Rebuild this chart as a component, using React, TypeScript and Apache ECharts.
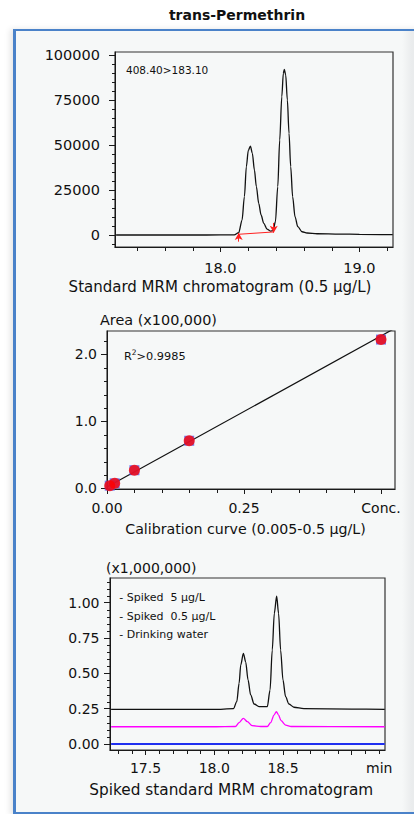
import React, { useEffect, useRef } from "react";
import * as echarts from "echarts";

const FONT = "DejaVu Sans";

// ---------- Chart 1: standard MRM chromatogram ----------
const c1Time = [17.25, 17.6, 17.9, 18.1, 18.132, 18.156, 18.173, 18.187, 18.201, 18.216, 18.23, 18.245, 18.259, 18.276, 18.293, 18.312, 18.336, 18.36, 18.379, 18.396, 18.413, 18.427, 18.442, 18.453, 18.46, 18.47, 18.482, 18.494, 18.506, 18.52, 18.537, 18.557, 18.588, 18.624, 18.696, 18.86, 19.0, 19.24];
const c1Intensity = [0, 0, 0, 100, 1300, 8300, 21300, 38000, 47000, 49400, 45400, 36100, 26900, 17600, 11100, 6500, 3300, 2200, 2400, 7400, 26900, 52800, 76800, 89800, 92000, 88900, 75000, 56500, 38000, 21300, 10200, 4600, 1800, 1100, 700, 500, 400, 200];
const c1BaselineTime = [18.132, 18.384];
const c1BaselineValue = [400, 1700];
const c1ArrowTime = [18.132, 18.384];
const c1ArrowFrom = [-3700, 6700];
const c1ArrowTo = [1100, 1300];
const c1XMajor = [18.0, 19.0];
const c1XLabels = ["18.0", "19.0"];
const c1XMinor = [17.4, 17.6, 17.8, 18.2, 18.4, 18.6, 18.8, 19.2];
const c1YMajor = [0, 25000, 50000, 75000, 100000];
const c1YLabels = ["0", "25000", "50000", "75000", "100000"];
const c1YMinor = [-5000, 5000, 10000, 15000, 20000, 30000, 35000, 40000, 45000, 55000, 60000, 65000, 70000, 80000, 85000, 90000, 95000];

// ---------- Chart 2: calibration curve ----------
const c2Conc = [0.005, 0.014, 0.05, 0.15, 0.5];
const c2Area = [0.04, 0.075, 0.27, 0.71, 2.22];
const c2FitConc = [0, 0.53];
const c2FitArea = [0.02, 2.41];
const c2XMajor = [0, 0.25, 0.5];
const c2XLabels = ["0.00", "0.25", "Conc."];
const c2XMinor = [0.05, 0.1, 0.15, 0.2, 0.3, 0.35, 0.4, 0.45];
const c2YMajor = [0, 1, 2];
const c2YLabels = ["0.0", "1.0", "2.0"];
const c2YMinor = [0.2, 0.4, 0.6, 0.8, 1.2, 1.4, 1.6, 1.8, 2.2];

// ---------- Chart 3: spiked standard MRM chromatogram ----------
const c3BlackTime = [17.25, 17.6, 18.0, 18.14, 18.164, 18.181, 18.193, 18.212, 18.229, 18.246, 18.265, 18.29, 18.326, 18.386, 18.406, 18.422, 18.437, 18.454, 18.468, 18.483, 18.5, 18.519, 18.543, 18.58, 18.652, 19.0, 19.24];
const c3BlackValue = [0.245, 0.245, 0.245, 0.25, 0.3, 0.43, 0.56, 0.642, 0.58, 0.453, 0.347, 0.283, 0.264, 0.264, 0.382, 0.665, 0.925, 1.047, 0.925, 0.665, 0.453, 0.335, 0.283, 0.26, 0.25, 0.247, 0.245];
const c3MagentaTime = [17.25, 18.0, 18.154, 18.181, 18.212, 18.241, 18.275, 18.338, 18.386, 18.41, 18.435, 18.452, 18.468, 18.486, 18.519, 18.56, 19.24];
const c3MagentaValue = [0.122, 0.122, 0.124, 0.151, 0.182, 0.158, 0.13, 0.124, 0.124, 0.151, 0.205, 0.229, 0.205, 0.165, 0.134, 0.124, 0.122];
const c3BlueTime = [17.25, 19.24];
const c3BlueValue = [0, 0];
const c3XMajor = [17.5, 18.0, 18.5, 19.0];
const c3XLabelValues = [17.5, 18.0, 18.5, 19.2];
const c3XLabels = ["17.5", "18.0", "18.5", "min"];
const c3XMinor = [17.3, 17.4, 17.6, 17.7, 17.8, 17.9, 18.1, 18.2, 18.3, 18.4, 18.6, 18.7, 18.8, 18.9, 19.1, 19.2];
const c3YMajor = [0, 0.25, 0.5, 0.75, 1.0];
const c3YLabels = ["0.00", "0.25", "0.50", "0.75", "1.00"];
const c3YMinor = [0.05, 0.1, 0.15, 0.2, 0.3, 0.35, 0.4, 0.45, 0.55, 0.6, 0.65, 0.7, 0.8, 0.85, 0.9, 0.95, 1.05, 1.1, 1.15];
const c3Legend = ["- Spiked  5 µg/L", "- Spiked  0.5 µg/L", "- Drinking water"];

const zip = (a: number[], b: number[]) => a.map((v, i) => [v, b[i]]);
const pick = (vals: number[], labels: string[]) => (v: number) => {
  const i = vals.findIndex((x) => Math.abs(x - v) < 1e-6);
  return i >= 0 ? labels[i] : "";
};

const AX = "#1a1a1a";

function axis(dim: "x" | "y", grid: number, min: number, max: number, ticks: number[], labelVals: number[],
  fmt: (v: number) => string, tickLen: number, margin: number, fs: number) {
  return {
    gridIndex: grid, type: "value", min, max, position: dim === "x" ? "bottom" : "left",
    axisLine: { show: true, onZero: false, lineStyle: { color: AX, width: 1 } },
    axisTick: { show: true, customValues: ticks, length: tickLen, lineStyle: { color: AX, width: 1 } },
    axisLabel: { show: true, customValues: labelVals, formatter: fmt, margin, fontSize: fs, fontFamily: FONT, color: "#111" },
    splitLine: { show: false },
  };
}

function txt(x: number, y: number, text: string, fontSize: number, align = "left", weight = "normal") {
  return {
    type: "text", x, y, z: 10,
    style: {
      text, fontSize, fontFamily: FONT, fontWeight: weight, fill: "#111",
      align, verticalAlign: "middle", textAlign: align, textVerticalAlign: "middle",
    },
  };
}

export default function App() {
  const ref = useRef<HTMLDivElement>(null);
  useEffect(() => {
    const chart = echarts.init(ref.current!, null, { renderer: "svg" });
    const X1 = [17.242, 19.242], Y1 = [-6667, 101667];
    const X2 = [0, 0.5255], Y2 = [-0.01, 2.348];
    const X3 = [17.242, 19.242], Y3 = [-0.0425, 1.175];
    const gridStyle = { show: true, borderColor: "#333", borderWidth: 1.2, backgroundColor: "transparent" };
    const texts: any[] = [
      txt(237, 15, "trans-Permethrin", 14, "center", "bold"),
      txt(126, 70, "408.40>183.10", 10.5),
      txt(220, 287, "Standard MRM chromatogram (0.5 µg/L)", 15, "center"),
      txt(100, 320, "Area (x100,000)", 14.4),
      {
        type: "text", x: 124, y: 355, z: 10,
        style: {
          text: "{r|R}{s|2}{r|>0.9985}", align: "left", verticalAlign: "middle",
          textAlign: "left", textVerticalAlign: "middle",
          rich: {
            r: { fontSize: 11.3, fontFamily: FONT, fill: "#111", color: "#111", lineHeight: 14, verticalAlign: "bottom" },
            s: { fontSize: 7.5, fontFamily: FONT, fill: "#111", color: "#111", lineHeight: 14, verticalAlign: "top" },
          },
        },
      },
      txt(245.5, 529, "Calibration curve (0.005-0.5 µg/L)", 14.2, "center"),
      txt(106, 568, "(x1,000,000)", 14),
      txt(119.3, 597.7, c3Legend[0], 11),
      txt(119.3, 616, c3Legend[1], 11),
      txt(119.3, 634.3, c3Legend[2], 11),
      txt(231.3, 790, "Spiked standard MRM chromatogram", 15.3, "center"),
    ];
    const option: any = {
      animation: false,
      backgroundColor: "transparent",
      grid: [
        { left: 115, top: 52, width: 278, height: 195, ...gridStyle },
        { left: 107, top: 331, width: 288, height: 158, ...gridStyle },
        { left: 110, top: 578, width: 275, height: 172, ...gridStyle },
      ],
      xAxis: [
        axis("x", 0, X1[0], X1[1], c1XMajor, c1XMajor, pick(c1XMajor, c1XLabels), 5, 13, 14.5),
        axis("x", 1, X2[0], X2[1], c2XMajor, c2XMajor, pick(c2XMajor, c2XLabels), 5, 12, 14),
        axis("x", 2, X3[0], X3[1], c3XMajor, c3XLabelValues, pick(c3XLabelValues, c3XLabels), 5, 11, 14),
      ],
      yAxis: [
        axis("y", 0, Y1[0], Y1[1], c1YMajor, c1YMajor, pick(c1YMajor, c1YLabels), 6, 15, 14.5),
        axis("y", 1, Y2[0], Y2[1], c2YMajor, c2YMajor, pick(c2YMajor, c2YLabels), 6, 10, 14),
        axis("y", 2, Y3[0], Y3[1], c3YMajor, c3YMajor, pick(c3YMajor, c3YLabels), 6, 10.5, 14),
      ],
      series: [
        {
          type: "line", xAxisIndex: 0, yAxisIndex: 0, data: zip(c1Time, c1Intensity),
          showSymbol: false, smooth: 0.3, smoothMonotone: "x", lineStyle: { color: "#111", width: 1.3 }, z: 3,
        },
        {
          type: "line", xAxisIndex: 0, yAxisIndex: 0, data: zip(c1BaselineTime, c1BaselineValue),
          showSymbol: false, lineStyle: { color: "#ff2020", width: 1 }, z: 4,
          markLine: {
            silent: true, symbol: ["none", "arrow"], symbolSize: [6, 7],
            lineStyle: { color: "#ff2020", width: 1, type: "solid" }, label: { show: false },
            data: c1ArrowTime.map((t, i) => [{ coord: [t, c1ArrowFrom[i]] }, { coord: [t, c1ArrowTo[i]] }]),
          },
        },
        {
          type: "line", xAxisIndex: 1, yAxisIndex: 1, data: zip(c2FitConc, c2FitArea),
          showSymbol: false, lineStyle: { color: "#111", width: 1.2 }, z: 3,
        },
        {
          type: "scatter", xAxisIndex: 1, yAxisIndex: 1, data: zip(c2Conc, c2Area),
          symbol: "rect", symbolSize: 10, itemStyle: { color: "#4a5cf0" }, z: 4,
        },
        {
          type: "scatter", xAxisIndex: 1, yAxisIndex: 1, data: zip(c2Conc, c2Area),
          symbol: "circle", symbolSize: 11, itemStyle: { color: "#ff0000" }, z: 5,
        },
        {
          type: "line", xAxisIndex: 2, yAxisIndex: 2, data: zip(c3BlueTime, c3BlueValue),
          showSymbol: false, lineStyle: { color: "#1f2ff0", width: 2 }, z: 3,
        },
        {
          type: "line", xAxisIndex: 2, yAxisIndex: 2, data: zip(c3MagentaTime, c3MagentaValue),
          showSymbol: false, smooth: 0.3, smoothMonotone: "x", lineStyle: { color: "#ff00ff", width: 1.3 }, z: 3,
        },
        {
          type: "line", xAxisIndex: 2, yAxisIndex: 2, data: zip(c3BlackTime, c3BlackValue),
          showSymbol: false, smooth: 0.3, smoothMonotone: "x", lineStyle: { color: "#111", width: 1.3 }, z: 3,
        },
      ],
      graphic: texts,
    };
    chart.setOption(option);

    // minor ticks: positions converted through each chart's own axis scales
    const ticks: any[] = [];
    const addTicks = (idx: number, dim: "x" | "y", vals: number[], anchor: number) => {
      vals.forEach((v) => {
        const p = chart.convertToPixel({ xAxisIndex: idx, yAxisIndex: idx } as any, dim === "x" ? [v, anchor] : [anchor, v]) as any;
        if (!p || isNaN(p[0]) || isNaN(p[1])) return;
        const x = Math.round(p[0]) + 0.5;
        const y = Math.round(p[1]) + 0.5;
        ticks.push({
          type: "line", z: 20, silent: true,
          shape: dim === "x" ? { x1: x, y1: y, x2: x, y2: y + 3.5 } : { x1: x - 3.5, y1: y, x2: x, y2: y },
          style: { stroke: AX, lineWidth: 1 },
        });
      });
    };
    addTicks(0, "x", c1XMinor, Y1[0]);
    addTicks(0, "y", c1YMinor, X1[0]);
    addTicks(1, "x", c2XMinor, Y2[0]);
    addTicks(1, "y", c2YMinor, X2[0]);
    addTicks(2, "x", c3XMinor, Y3[0]);
    addTicks(2, "y", c3YMinor, X3[0]);
    chart.setOption({ graphic: [...texts, ...ticks] });

    return () => chart.dispose();
  }, []);
  return (
    <div style={{ position: "fixed", left: 0, top: 0, width: 414, height: 814, background: "#fff", overflow: "hidden" }}>
      <div
        style={{
          position: "absolute", left: 13, top: 29, width: 440, height: 786, boxSizing: "border-box",
          borderTop: "2px solid #4a82c9", borderLeft: "3px solid #4a82c9", borderBottom: "3px solid #4a82c9",
          background: "linear-gradient(to right, #f6f8f8 0px, #f6f8f8 386px, #eaeced 396px, #eaeced 440px)",
          boxShadow: "-3px 0 6px rgba(0,0,0,0.10)",
        }}
      />
      <div ref={ref} style={{ position: "absolute", left: 0, top: 0, width: 414, height: 814 }} />
    </div>
  );
}
